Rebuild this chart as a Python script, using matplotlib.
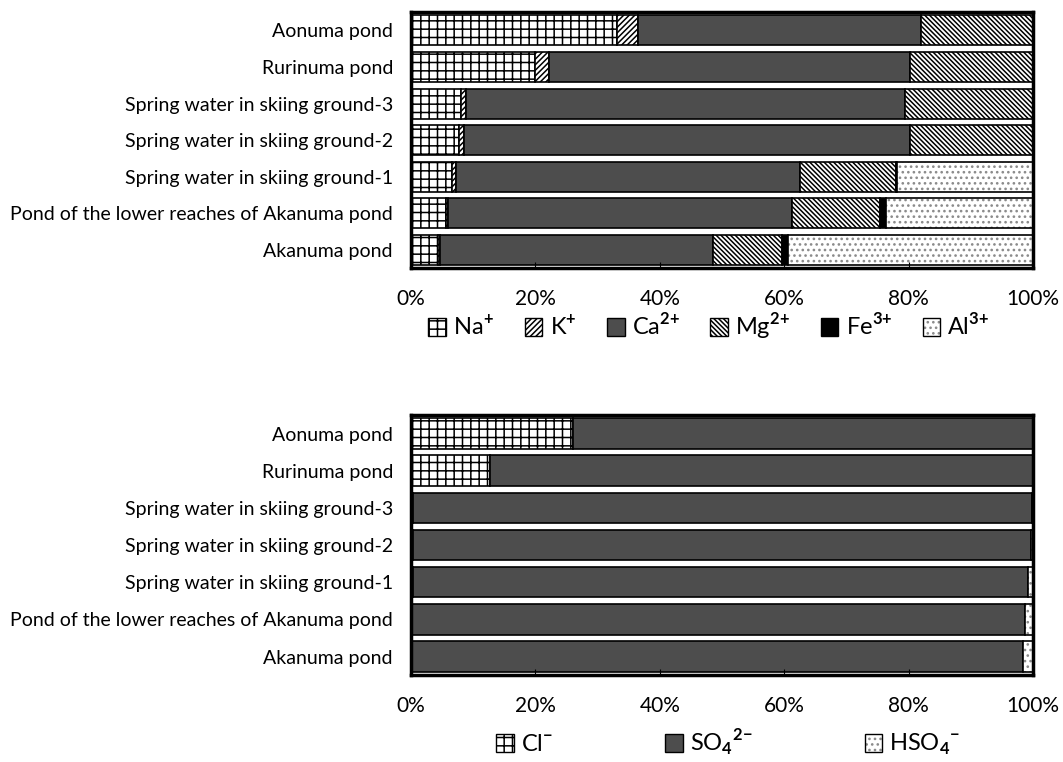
import matplotlib
matplotlib.use("Agg")
import matplotlib.pyplot as plt
import numpy as np

plt.rcParams['font.family'] = ['Lato', 'DejaVu Sans']
plt.rcParams['mathtext.fontset'] = 'custom'
plt.rcParams['mathtext.rm'] = 'Lato'
plt.rcParams['mathtext.bf'] = 'Lato:bold'
plt.rcParams['hatch.linewidth'] = 1.1

sites = ["Aonuma pond", "Rurinuma pond", "Spring water in skiing ground-3",
         "Spring water in skiing ground-2", "Spring water in skiing ground-1",
         "Pond of the lower reaches of Akanuma pond", "Akanuma pond"]

# cation composition (%)
cat_names = [r"Na$^{\mathbf{{+}}}$", r"K$^{\mathbf{{+}}}$", r"Ca$^{\mathbf{2{+}}}$",
             r"Mg$^{\mathbf{2{+}}}$", r"Fe$^{\mathbf{3{+}}}$", r"Al$^{\mathbf{3{+}}}$"]
na = [33.1, 20.0, 8.0, 7.8, 6.6, 5.6, 4.4]
k = [3.4, 2.2, 0.8, 0.7, 0.7, 0.4, 0.2]
ca = [45.5, 58.0, 70.6, 71.7, 55.3, 55.2, 44.0]
mg = [18.0, 19.8, 20.6, 19.8, 15.3, 14.2, 11.1]
fe = [0.0, 0.0, 0.0, 0.0, 0.2, 1.0, 0.9]
al = [0.0, 0.0, 0.0, 0.0, 21.9, 23.6, 39.4]

# anion composition (%)
an_names = [r"Cl$^{\mathbf{{-}}}$", r"SO$_{\mathbf{4}}$$^{\mathbf{2{-}}}$",
            r"HSO$_{\mathbf{4}}$$^{\mathbf{{-}}}$"]
cl = [26.1, 12.7, 0.3, 0.3, 0.4, 0.1, 0.1]
so4 = [73.9, 87.3, 99.6, 99.3, 98.8, 98.6, 98.3]
hso4 = [0.0, 0.0, 0.1, 0.4, 0.8, 1.3, 1.6]

dark = '#4d4d4d'
# (face, hatch, hatch colour)
cat_styles = [('white', '++', 'black'),
              ('white', '//////', 'black'),
              (dark, None, 'black'),
              ('white', '\\\\\\\\\\\\\\', 'black'),
              ('black', None, 'black'),
              ('white', '...', '#8a8a8a')]
an_styles = [('white', '++', 'black'),
             (dark, None, 'black'),
             ('white', '...', '#8a8a8a')]

fig = plt.figure(figsize=(10.63, 7.62), dpi=100)
ax1 = fig.add_axes([0.3866, 0.648, 0.5852, 0.336])
ax2 = fig.add_axes([0.3866, 0.114, 0.5852, 0.3414])


def stacked(ax, series, names, styles):
    y = np.arange(len(sites))
    left = np.zeros(len(sites))
    handles = []
    for vals, name, (fc, hatch, hc) in zip(series, names, styles):
        vals = np.array(vals)
        # hatch layer (hatch takes the edge colour), then black outline
        ax.barh(y, vals, left=left, height=0.82, color=fc, edgecolor=hc,
                linewidth=0, hatch=hatch)
        ax.barh(y, vals, left=left, height=0.82, fill=False,
                edgecolor='black', linewidth=1.2)
        h = plt.Rectangle((0, 0), 1, 1, facecolor=fc, edgecolor=hc,
                          hatch=hatch, linewidth=0)
        o = plt.Rectangle((0, 0), 1, 1, fill=False, edgecolor='black',
                          linewidth=1.0)
        handles.append((h, o))
        left += vals
    ax.set_ylim(len(sites) - 0.5, -0.5)
    ax.set_xlim(0, 100)
    ax.set_yticks(y)
    ax.set_yticklabels(sites, fontsize=14)
    ax.set_xticks([0, 20, 40, 60, 80, 100])
    ax.set_xticklabels(["0%", "20%", "40%", "60%", "80%", "100%"], fontsize=15)
    ax.tick_params(axis='y', length=0, pad=13)
    ax.tick_params(axis='x', direction='in', length=4, pad=15, top=False)
    for s in ax.spines.values():
        s.set_linewidth(2.5)
    return handles


h1 = stacked(ax1, [na, k, ca, mg, fe, al], cat_names, cat_styles)
h2 = stacked(ax2, [cl, so4, hso4], an_names, an_styles)

fig.legend(h1, cat_names, loc='center', bbox_to_anchor=(0.667, 0.572), ncol=6,
           frameon=False, fontsize=17, handlelength=0.75, handleheight=0.75,
           handletextpad=0.3, columnspacing=1.3)
fig.legend(h2, an_names, loc='center', bbox_to_anchor=(0.685, 0.026), ncol=3,
           frameon=False, fontsize=17, handlelength=0.75, handleheight=0.75,
           handletextpad=0.3, columnspacing=4.75)

fig.savefig("out.png", dpi=100)
